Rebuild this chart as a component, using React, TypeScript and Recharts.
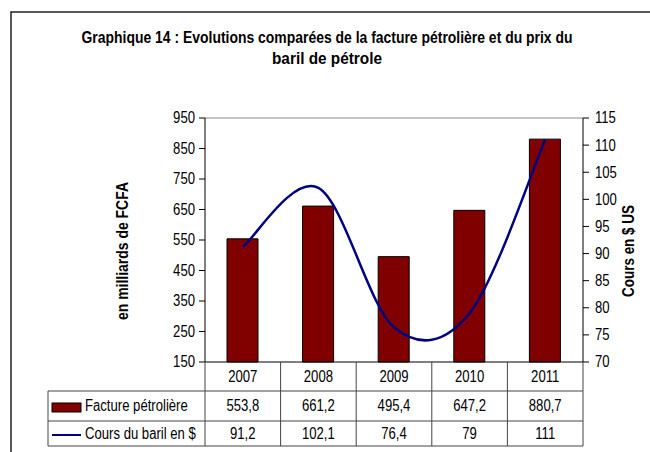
import React from "react";
import { ComposedChart, Bar, Line, XAxis, YAxis, ReferenceLine } from "recharts";

const YEARS = ["2007", "2008", "2009", "2010", "2011"];
const FACTURE = [553.8, 661.2, 495.4, 647.2, 880.7];
const COURS = [91.2, 102.1, 76.4, 79, 111];
const LEFT_TICKS = [150, 250, 350, 450, 550, 650, 750, 850, 950];
const RIGHT_TICKS = [70, 75, 80, 85, 90, 95, 100, 105, 110, 115];

const SERIES_BAR = "Facture pétrolière";
const SERIES_LINE = "Cours du baril en $";

const FONT = '"Liberation Sans", Arial, sans-serif';
const BAR_COLOR = "#800000";
const LINE_COLOR = "#000080";
const GRID = "#444";
const NARROW = 0.82; // the original uses Arial Narrow

// plot box
const PLOT_LEFT = 205;
const PLOT_RIGHT = 583;
const PLOT_TOP = 118;
const PLOT_BOTTOM = 362;
const TABLE_LEFT = 48;
const ROW1 = 391;
const ROW2 = 421;
const TABLE_BOTTOM = 446;
const COL_W = (PLOT_RIGHT - PLOT_LEFT) / YEARS.length;

const data = YEARS.map((year, i) => ({ year, facture: FACTURE[i], cours: COURS[i] }));

const fmt = (v: number) => String(v).replace(".", ",");

// Excel-style smoothed line (Catmull-Rom as cubic beziers)
function excelCurve(context: any) {
  let pts: number[][] = [];
  return {
    areaStart() {},
    areaEnd() {},
    lineStart() {
      pts = [];
    },
    point(x: number, y: number) {
      pts.push([+x, +y]);
    },
    lineEnd() {
      if (!pts.length) return;
      context.moveTo(pts[0][0], pts[0][1]);
      for (let i = 0; i < pts.length - 1; i++) {
        const p0 = pts[i - 1] || pts[i];
        const p1 = pts[i];
        const p2 = pts[i + 1];
        const p3 = pts[i + 2] || pts[i + 1];
        context.bezierCurveTo(
          p1[0] + (p2[0] - p0[0]) / 6,
          p1[1] + (p2[1] - p0[1]) / 6,
          p2[0] - (p3[0] - p1[0]) / 6,
          p2[1] - (p3[1] - p1[1]) / 6,
          p2[0],
          p2[1]
        );
      }
    },
  };
}

function NText({ x, y, anchor = "middle", size = 16, bold = false, children }: any) {
  return (
    <text
      transform={`translate(${x},${y}) scale(${NARROW},1)`}
      textAnchor={anchor}
      dominantBaseline="central"
      fontSize={size}
      fontWeight={bold ? "bold" : "normal"}
      fontFamily={FONT}
      fill="#000"
    >
      {children}
    </text>
  );
}

function AxisTick(props: any) {
  const { x, y, payload, textAnchor } = props;
  return <NText x={x} y={y} anchor={textAnchor}>{payload.value}</NText>;
}

function TableColumn(props: any) {
  const { x, payload, index } = props;
  return (
    <g>
      {index === 0 && <line x1={x - COL_W / 2} x2={x - COL_W / 2} y1={PLOT_BOTTOM} y2={TABLE_BOTTOM} stroke={GRID} />}
      <line x1={x + COL_W / 2} x2={x + COL_W / 2} y1={PLOT_BOTTOM} y2={TABLE_BOTTOM} stroke={GRID} />
      <NText x={x} y={(PLOT_BOTTOM + ROW1) / 2}>{payload.value}</NText>
      <NText x={x} y={(ROW1 + ROW2) / 2}>{fmt(FACTURE[index])}</NText>
      <NText x={x} y={(ROW2 + TABLE_BOTTOM) / 2}>{fmt(COURS[index])}</NText>
    </g>
  );
}

export default function App() {
  return (
    <div style={{ position: "absolute", left: 0, top: 0, width: 650, height: 452, background: "#fff", fontFamily: FONT }}>
      <ComposedChart
        width={650}
        height={452}
        data={data}
        margin={{ top: PLOT_TOP, left: PLOT_LEFT - 60, right: 650 - PLOT_RIGHT - 50, bottom: 452 - PLOT_BOTTOM - 84 }}
      >
        <XAxis
          dataKey="year"
          height={84}
          interval={0}
          tickLine={false}
          axisLine={{ stroke: "#000" }}
          tick={<TableColumn />}
        />
        <YAxis
          yAxisId="left"
          width={60}
          domain={[150, 950]}
          ticks={LEFT_TICKS}
          interval={0}
          tickSize={6}
          tickMargin={4}
          axisLine={{ stroke: "#000" }}
          tickLine={{ stroke: "#000" }}
          tick={<AxisTick />}
        />
        <YAxis
          yAxisId="right"
          orientation="right"
          width={50}
          domain={[70, 115]}
          ticks={RIGHT_TICKS}
          interval={0}
          tickSize={6}
          tickMargin={6}
          axisLine={{ stroke: "#000" }}
          tickLine={{ stroke: "#000" }}
          tick={<AxisTick />}
        />
        <ReferenceLine yAxisId="left" y={950} stroke="#888" />
        <Bar yAxisId="left" dataKey="facture" name={SERIES_BAR} barSize={31} fill={BAR_COLOR} stroke="#000" strokeWidth={1} isAnimationActive={false} />
        <Line yAxisId="right" dataKey="cours" name={SERIES_LINE} type={excelCurve as any} stroke={LINE_COLOR} strokeWidth={2.5} dot={false} isAnimationActive={false} />
      </ComposedChart>
      <svg width={650} height={452} style={{ position: "absolute", left: 0, top: 0, pointerEvents: "none" }}>
        <rect x={11} y={12} width={700} height={500} fill="none" stroke="#222" strokeWidth={1.5} />
        <text x={327} y={37} textAnchor="middle" dominantBaseline="central" fontSize={16} fontWeight="bold" fontFamily={FONT} textLength={491} lengthAdjust="spacingAndGlyphs">
          Graphique 14 : Evolutions comparées de la facture pétrolière et du prix du
        </text>
        <text x={327} y={58} textAnchor="middle" dominantBaseline="central" fontSize={16} fontWeight="bold" fontFamily={FONT} textLength={110} lengthAdjust="spacingAndGlyphs">
          baril de pétrole
        </text>
        <text transform="translate(122,251) rotate(-90)" textAnchor="middle" dominantBaseline="central" fontSize={16} fontWeight="bold" fontFamily={FONT} textLength={138} lengthAdjust="spacingAndGlyphs">
          en milliards de FCFA
        </text>
        <text transform="translate(628,251) rotate(-90)" textAnchor="middle" dominantBaseline="central" fontSize={16} fontWeight="bold" fontFamily={FONT} textLength={92} lengthAdjust="spacingAndGlyphs">
          Cours en $ US
        </text>
        {/* table frame */}
        <line x1={TABLE_LEFT} x2={PLOT_RIGHT} y1={ROW1} y2={ROW1} stroke={GRID} />
        <line x1={TABLE_LEFT} x2={PLOT_RIGHT} y1={ROW2} y2={ROW2} stroke={GRID} />
        <line x1={TABLE_LEFT} x2={PLOT_RIGHT} y1={TABLE_BOTTOM} y2={TABLE_BOTTOM} stroke={GRID} />
        <line x1={TABLE_LEFT} x2={TABLE_LEFT} y1={ROW1} y2={TABLE_BOTTOM} stroke={GRID} />
        <rect x={52} y={403} width={29} height={9} fill={BAR_COLOR} stroke="#000" />
        <NText x={85} y={(ROW1 + ROW2) / 2} anchor="start">{SERIES_BAR}</NText>
        <line x1={52} x2={81} y1={435} y2={435} stroke={LINE_COLOR} strokeWidth={2} />
        <NText x={85} y={(ROW2 + TABLE_BOTTOM) / 2} anchor="start">{SERIES_LINE}</NText>
      </svg>
    </div>
  );
}
